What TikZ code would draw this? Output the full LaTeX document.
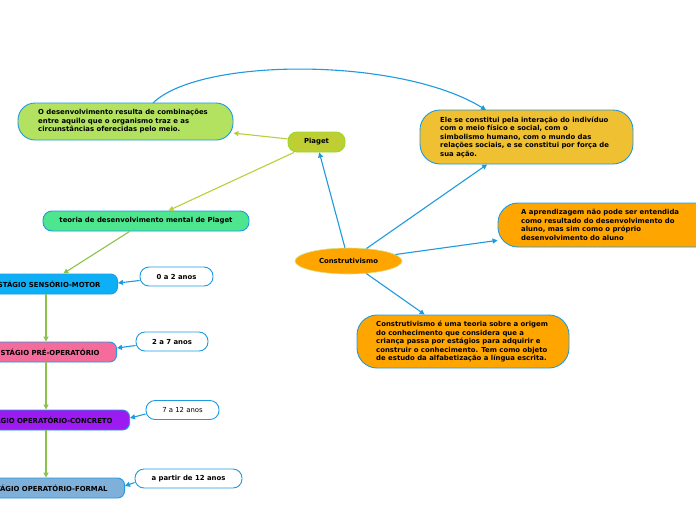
\documentclass[tikz,border=0pt]{standalone}
\usepackage{fontspec}
\setmainfont{DejaVu Sans}
\usetikzlibrary{arrows.meta,shapes.geometric,calc}
\definecolor{bl}{HTML}{1E9AE0}
\definecolor{gl}{HTML}{8BC34A}
\definecolor{pl}{HTML}{BCCF3A}
\definecolor{fd}{HTML}{B3E260}
\definecolor{fp}{HTML}{BFCF33}
\definecolor{ft}{HTML}{4DE68F}
\definecolor{fe}{HTML}{EFC031}
\definecolor{fo}{HTML}{FFA500}
\definecolor{s1c}{HTML}{0DB0F6}
\definecolor{s2c}{HTML}{F46B9C}
\definecolor{s3c}{HTML}{9C1BF1}
\definecolor{s4c}{HTML}{7FB0DA}
\begin{document}
\begin{tikzpicture}[x=1pt,y=-1pt,
  every node/.style={font=\fontsize{6.9}{8.5}\selectfont\bfseries, text=black},
  box/.style={draw=bl, line width=0.9pt, inner sep=0pt},
  txt/.style={anchor=west, align=left, inner sep=0pt},
  stagebox/.style={box, rounded corners=7pt, anchor=east, minimum height=20pt, inner xsep=17pt},
  agebox/.style={box, fill=white, rounded corners=9pt, minimum height=19pt},
  barrow/.style={draw=bl, line width=1.1pt, -{Triangle[length=5pt,width=5pt]}},
  garrow/.style={draw=gl, line width=1.1pt, -{Triangle[length=5pt,width=5pt]}},
  parrow/.style={draw=pl, line width=1.1pt, -{Triangle[length=5pt,width=5pt]}}]
\useasboundingbox (0,0) rectangle (696,520);
\fill[white] (0,0) rectangle (696,520);

% central
\node[ellipse, fill=fo, draw=pl!60, line width=0.6pt, minimum width=107pt, minimum height=26pt, inner sep=0pt] (c) at (348.5,261) {Construtivismo};

% Piaget
\node[box, draw=pl!80!green, fill=fp, rounded corners=9pt, minimum width=57pt, minimum height=20pt] (p) at (316.5,142) {Piaget};

% desenvolvimento
\node[box, fill=fd, rounded corners=17pt, minimum width=215pt, minimum height=37pt] (d) at (125.5,121.5) {};
\node[txt] (dt) at (38,121.5) {O desenvolvimento resulta de combinações\\entre aquilo que o organismo traz e as\\circunstâncias oferecidas pelo meio.};

% teoria
\node[box, fill=ft, rounded corners=9pt, minimum width=206pt, minimum height=20pt] (t) at (146,221) {teoria de desenvolvimento mental de Piaget};

% Ele se constitui
\node[box, fill=fe, rounded corners=20pt, minimum width=213pt, minimum height=54pt] (e) at (526.5,137) {};
\node[txt] (et) at (440,137) {Ele se constitui pela interação do indivíduo\\com o meio físico e social, com o\\simbolismo humano, com o mundo das\\relações sociais, e se constitui por força de\\sua ação.};

% aprendizagem
\node[box, fill=fo, rounded corners=20pt, minimum width=222pt, minimum height=44pt] (a) at (609,225) {};
\node[txt] (at) at (521,225) {A aprendizagem não pode ser entendida\\como resultado do desenvolvimento do\\aluno, mas sim como o próprio\\desenvolvimento do aluno};

% construtivismo e
\node[box, fill=fo, rounded corners=20pt, minimum width=212pt, minimum height=53pt] (k) at (463,341.5) {};
\node[txt] (kt) at (376,341.5) {Construtivismo é uma teoria sobre a origem\\do conhecimento que considera que a\\criança passa por estágios para adquirir e\\construir o conhecimento. Tem como objeto\\de estudo da alfabetização a língua escrita.};

% stages
\node[stagebox, fill=s1c] (s1) at (118,284) {ESTÁGIO SENSÓRIO-MOTOR};
\node[stagebox, fill=s2c] (s2) at (117,352) {ESTÁGIO PRÉ-OPERATÓRIO};
\node[stagebox, fill=s3c] (s3) at (130,420) {ESTÁGIO OPERATÓRIO-CONCRETO};
\node[stagebox, fill=s4c] (s4) at (125,488) {ESTÁGIO OPERATÓRIO-FORMAL};

% ages
\node[agebox, minimum width=73pt] (a1) at (176.5,276.5) {0 a 2 anos};
\node[agebox, minimum width=72pt] (a2) at (172,341.5) {2 a 7 anos};
\node[agebox, minimum width=73pt, font=\fontsize{6.9}{8.5}\selectfont\mdseries] (a3) at (182.5,410) {7 a 12 anos};
\node[agebox, minimum width=107pt] (a4) at (188.5,478.5) {a partir de 12 anos};

% connectors
\draw[barrow] (c) -- (p);
\draw[barrow] (c) -- (e);
\draw[barrow] (c) -- (a);
\draw[barrow] (c) -- (k);
\draw[parrow] (p) -- (d);
\draw[parrow] (p) -- (t);
\draw[garrow] (t) -- (s1);
\coordinate (vx) at (46,0);
\draw[garrow] (s1.south -| vx) -- (s2.north -| vx);
\draw[garrow] (s2.south -| vx) -- (s3.north -| vx);
\draw[garrow] (s3.south -| vx) -- (s4.north -| vx);
\draw[barrow] ($(a1.west)+(0,4)$) -- ($(s1.east)+(0,-1)$);
\draw[barrow] ($(a2.west)+(0,4)$) -- ($(s2.east)+(0,-4)$);
\draw[barrow] ($(a3.west)+(0,4)$) -- ($(s3.east)+(0,-2)$);
\draw[barrow] ($(a4.west)+(0,4)$) -- ($(s4.east)+(0,-2)$);
\coordinate (cs) at (153,103);
\coordinate (ce) at (486,110);
\draw[barrow] (cs) .. controls (200,57) and (400,57) .. (ce);
\end{tikzpicture}
\end{document}
